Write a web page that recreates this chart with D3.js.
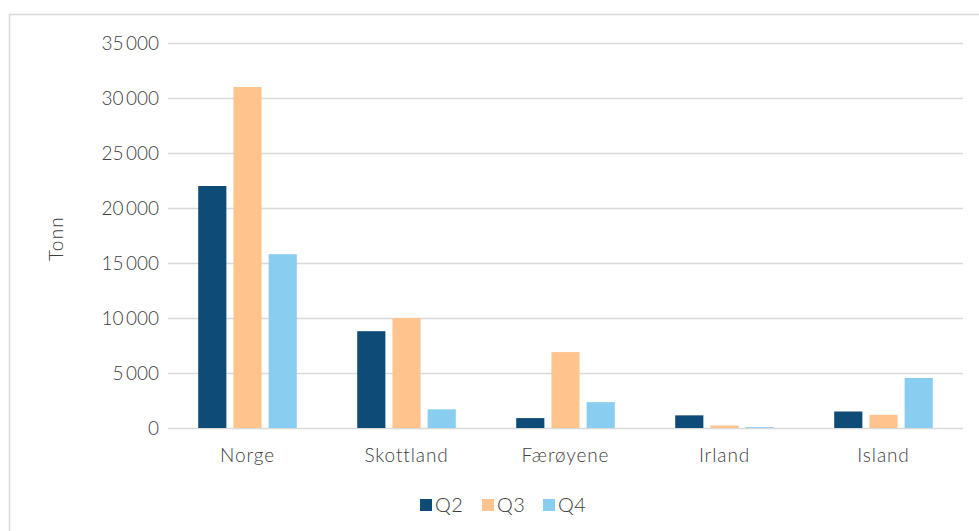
<!DOCTYPE html>
<html><head><meta charset="utf-8">
<script src="https://cdn.jsdelivr.net/npm/d3@7"></script>
<style>
html,body{margin:0;padding:0;background:#fff;}
svg{display:block;}
svg text{font-family:Lato,"Open Sans",sans-serif;}
</style></head>
<body>
<svg id="chart" width="979" height="531"></svg>
<script>
const categories = ["Norge","Skottland","Færøyene","Irland","Island"];
const seriesNames = ["Q2","Q3","Q4"];
const q2 = [22000, 8800, 900, 1150, 1500];
const q3 = [31000, 10000, 6900, 230, 1200];
const q4 = [15800, 1700, 2350, 80, 4550];
const yTicks = [0,5000,10000,15000,20000,25000,30000,35000];
const colors = ["#0e4c77","#ffc38d","#89cdf0"];
const yLabel = "Tonn";

const series = [q2,q3,q4];
const svg = d3.select("#chart");
const W = 979, H = 531;
const m = {left:168, right:16, top:43, bottom:103};
const txt = "#404040";
const FONT = "Lato, 'Open Sans', sans-serif";
const FW = "300";

// outer border
svg.append("rect").attr("x",9.5).attr("y",14.5).attr("width",W+20).attr("height",H+20)
  .attr("fill","#fff").attr("stroke","#d9d9d9").attr("stroke-width",1.5);

const x0 = d3.scaleBand().domain(categories).range([m.left, W-m.right]).paddingInner(0.38).paddingOuter(0.19);
const x1 = d3.scaleBand().domain(seriesNames).range([0, x0.bandwidth()]).paddingInner(0.2);
const y = d3.scaleLinear().domain([0,35000]).range([H-m.bottom, m.top]);

const fmt = v => d3.format(",")(v).replace(/,/g,"\u2009");

// gridlines
svg.append("g").selectAll("line").data(yTicks).join("line")
  .attr("x1",m.left).attr("x2",W-m.right)
  .attr("y1",d=>Math.round(y(d))+0.5).attr("y2",d=>Math.round(y(d))+0.5)
  .attr("stroke","#d9d9d9").attr("stroke-width",1.5);

// y axis
const yAxis = d3.axisLeft(y).tickValues(yTicks).tickFormat(fmt).tickSize(0).tickPadding(9);
const gy = svg.append("g").attr("transform",`translate(${m.left},0)`).call(yAxis)
  .attr("font-family",FONT).attr("font-size",19);
gy.select(".domain").remove();
gy.selectAll("text").attr("fill",txt).style("font-family",FONT).style("font-size","19px")
  .style("font-weight",FW);

// bars
const groups = svg.append("g").selectAll("g").data(categories).join("g")
  .attr("transform",d=>`translate(${x0(d)},0)`);
groups.selectAll("rect").data((c,i)=>seriesNames.map((s,j)=>({s,j,v:series[j][i]}))).join("rect")
  .attr("x",d=>x1(d.s)).attr("width",x1.bandwidth())
  .attr("y",d=>y(d.v)).attr("height",d=>y(0)-y(d.v))
  .attr("fill",d=>colors[d.j]);

// x axis
const xAxis = d3.axisBottom(x0).tickSize(0).tickPadding(21);
const gx = svg.append("g").attr("transform",`translate(0,${y(0)})`).call(xAxis)
  .attr("font-family",FONT).attr("font-size",19);
gx.select(".domain").remove();
gx.selectAll("text").attr("fill",txt).style("font-family",FONT).style("font-size","19px")
  .style("font-weight",FW).style("letter-spacing","0.9px");

// y label
svg.append("text").attr("transform",`translate(63,${(y(0)+y(35000))/2+3}) rotate(-90)`)
  .attr("text-anchor","middle").attr("fill",txt).style("font-size","19px")
  .style("font-weight",FW).style("letter-spacing","1.2px").text(yLabel);

// legend
const leg = svg.append("g").attr("transform","translate(420,505)");
const legX = [0, 62, 123];
seriesNames.forEach((s,i)=>{
  const g = leg.append("g").attr("transform",`translate(${legX[i]},0)`);
  g.append("rect").attr("x",0).attr("y",-6).attr("width",12).attr("height",12).attr("fill",colors[i]);
  g.append("text").attr("x",15).attr("y",0).attr("dy","0.35em").attr("fill",txt).style("font-size","20px")
    .style("font-weight",FW).style("letter-spacing","0.5px").text(s);
});
</script>
</body></html>
